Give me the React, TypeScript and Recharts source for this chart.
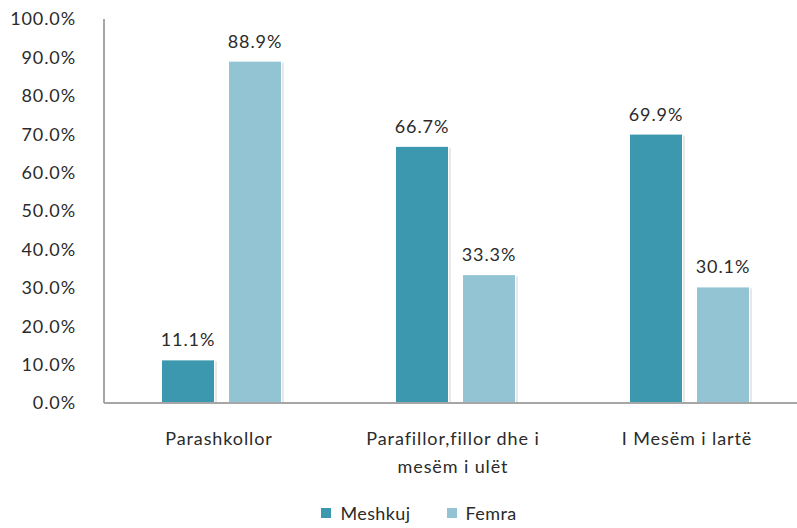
import React from 'react';
import { BarChart, Bar, XAxis, YAxis, Legend, LabelList } from 'recharts';

const categories = ['Parashkollor', 'Parafillor,fillor dhe i|mesëm i ulët', 'I Mesëm i lartë'];
const meshkuj = [11.1, 66.7, 69.9];
const femra = [88.9, 33.3, 30.1];
const yTicks = [0, 10, 20, 30, 40, 50, 60, 70, 80, 90, 100];
const seriesNames = ['Meshkuj', 'Femra'];
const seriesColors = ['#3c98ae', '#93c4d4'];

const data = categories.map((c, i) => ({ name: c, Meshkuj: meshkuj[i], Femra: femra[i] }));

const FONT = 'Lato, "Open Sans", sans-serif';
const TEXT = '#2b2b2b';
const LS = 0.9;

// bar with a soft shadow on the right/bottom edge, like the office chart
const ShadowBar = (props: any) => {
  const { x, y, width, height, fill } = props;
  if (!height || height <= 0) return null;
  return (
    <g>
      <rect x={x + 1} y={y + 1} width={width + 2} height={height} fill="#d9d9d9" opacity={0.6} />
      <rect x={x - 1} y={y - 1} width={width + 2} height={height + 1} fill="#fff" />
      <rect x={x} y={y} width={width} height={height} fill={fill} />
    </g>
  );
};

const XTick = (props: any) => {
  const { x, y, payload } = props;
  const lines = String(payload.value).split('|');
  return (
    <text x={x - 2} y={y + 32} textAnchor="middle" fill={TEXT} fontSize={18} fontFamily={FONT} letterSpacing={LS}>
      {lines.map((l, i) => (
        <tspan key={i} x={x - 2} dy={i === 0 ? 2 : 28}>
          {l}
        </tspan>
      ))}
    </text>
  );
};

const LegendBox = () => (
  <div style={{ display: 'flex', justifyContent: 'center', fontFamily: FONT, fontSize: 18, lineHeight: '26px', color: TEXT, letterSpacing: 0.4, paddingLeft: 41 }}>
    {seriesNames.map((n, i) => (
      <span key={n} style={{ display: 'inline-flex', alignItems: 'center', marginRight: i === 0 ? 36 : 0 }}>
        <span style={{ width: 10, height: 10, background: seriesColors[i], marginRight: 9, display: 'inline-block' }} />
        {n}
      </span>
    ))}
  </div>
);

const fmt = (v: number) => v.toFixed(1) + '%';

export default function App() {
  return (
    <div style={{ position: 'absolute', left: 0, top: 0, width: 797, height: 528, overflow: 'hidden', background: '#fff' }}>
      <BarChart
        width={806}
        height={528}
        data={data}
        margin={{ top: 19, right: 0, bottom: 0, left: 0 }}
        barGap={15}
        barSize={52}
      >
        <XAxis
          dataKey="name"
          tick={<XTick />}
          tickLine={false}
          axisLine={{ stroke: '#a6a6a6', strokeWidth: 2 }}
          height={85}
          interval={0}
        />
        <YAxis
          width={104}
          domain={[0, 100]}
          ticks={yTicks}
          tickFormatter={fmt}
          tickLine={false}
          axisLine={{ stroke: '#a6a6a6', strokeWidth: 2 }}
          tick={{ fill: TEXT, fontSize: 18, fontFamily: FONT, letterSpacing: LS }}
          tickMargin={22}
          interval={0}
        />
        <Legend
          verticalAlign="bottom"
          height={40}
          content={<LegendBox />}
          wrapperStyle={{ left: 0, width: 797, top: 500, bottom: 'auto' }}
        />
        <Bar dataKey="Meshkuj" fill={seriesColors[0]} isAnimationActive={false} shape={<ShadowBar />}>
          <LabelList dataKey="Meshkuj" position="top" offset={14} formatter={fmt} fill={TEXT} fontSize={18} fontFamily={FONT} letterSpacing={LS} />
        </Bar>
        <Bar dataKey="Femra" fill={seriesColors[1]} isAnimationActive={false} shape={<ShadowBar />}>
          <LabelList dataKey="Femra" position="top" offset={14} formatter={fmt} fill={TEXT} fontSize={18} fontFamily={FONT} letterSpacing={LS} />
        </Bar>
      </BarChart>
    </div>
  );
}
